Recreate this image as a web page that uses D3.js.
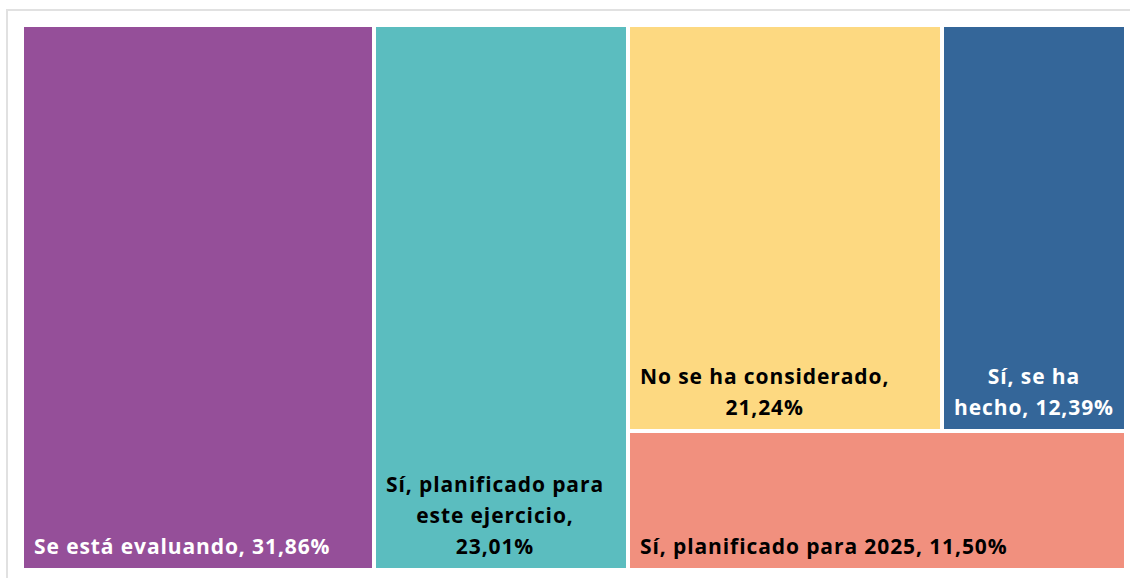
<!DOCTYPE html>
<html>
<head>
<meta charset="utf-8">
<script src="https://cdn.jsdelivr.net/npm/d3@7"></script>
<style>
  body { margin: 0; background: #fff; }
  svg { display: block; }
  .lbl { font-family: "Open Sans", sans-serif; font-weight: 700; font-size: 21px; letter-spacing: 0.9px; }
</style>
</head>
<body>
<div id="chart"></div>
<script>
// treemap categories and shares (%)
var categories = ["Se está evaluando", "Sí, planificado para este ejercicio", "No se ha considerado", "Sí, se ha hecho", "Sí, planificado para 2025"];
var values = [31.86, 23.01, 21.24, 12.39, 11.50];
var colors = ["#954f99", "#5bbdbf", "#fdd981", "#346699", "#f1907e"];
var textColors = ["#fff", "#000", "#000", "#fff", "#000"];

var svgWidth = 1130, svgHeight = 578;
var margin = { top: 27, right: 6, bottom: 10, left: 24 };
var width = svgWidth - margin.left - margin.right;
var height = svgHeight - margin.top - margin.bottom;

var svg = d3.select("#chart").append("svg")
    .attr("width", svgWidth)
    .attr("height", svgHeight);

// light frame of the visual
svg.append("rect")
    .attr("x", 7).attr("y", 10)
    .attr("width", svgWidth + 10).attr("height", svgHeight + 10)
    .attr("fill", "none")
    .attr("stroke", "#e1e1e1")
    .attr("stroke-width", 2);

var g = svg.append("g")
    .attr("transform", "translate(" + margin.left + "," + margin.top + ")");

var leaves = categories.map(function(c, i) {
    return { name: c, value: values[i], color: colors[i], text: textColors[i] };
});

// nest like the source layout: two columns, then the rest split in rows
var tree = {
    children: [
        leaves[0],
        leaves[1],
        { children: [ { children: [leaves[2], leaves[3]] }, leaves[4] ] }
    ]
};

var root = d3.hierarchy(tree).sum(function(d) { return d.value || 0; });

d3.treemap()
    .size([width, height])
    .paddingInner(4)
    .round(true)
    .tile(function(node, x0, y0, x1, y1) {
        (node.depth % 2 === 0 ? d3.treemapDice : d3.treemapSlice)(node, x0, y0, x1, y1);
    })(root);

var cell = g.selectAll("g.cell")
    .data(root.leaves())
    .enter().append("g")
    .attr("class", "cell");

cell.append("rect")
    .attr("x", function(d) { return d.x0; })
    .attr("y", function(d) { return d.y0; })
    .attr("width", function(d) { return d.x1 - d.x0; })
    .attr("height", function(d) { return d.y1 - d.y0; })
    .attr("fill", function(d) { return d.data.color; });

var lineH = 31;

cell.each(function(d) {
    var sel = d3.select(this);
    var label = d.data.name + ", " + d3.format(".2f")(d.data.value).replace(".", ",") + "%";
    var maxW = (d.x1 - d.x0) - 18;

    var t = sel.append("text").attr("class", "lbl").attr("fill", d.data.text);
    var words = label.split(" "), lines = [], cur = "";
    words.forEach(function(w) {
        var test = cur ? cur + " " + w : w;
        t.text(test);
        if (cur && t.node().getComputedTextLength() > maxW) {
            lines.push(cur);
            cur = w;
        } else {
            cur = test;
        }
    });
    lines.push(cur);

    var widths = lines.map(function(l) { t.text(l); return t.node().getComputedTextLength(); });
    var blockW = d3.max(widths);
    t.text(null);

    var cx = d.x0 + 10 + blockW / 2;
    var baseY = d.y1 - 14 - (lines.length - 1) * lineH;
    lines.forEach(function(l, i) {
        t.append("tspan")
            .attr("x", cx)
            .attr("y", baseY + i * lineH)
            .attr("text-anchor", "middle")
            .text(l);
    });
});
</script>
</body>
</html>
